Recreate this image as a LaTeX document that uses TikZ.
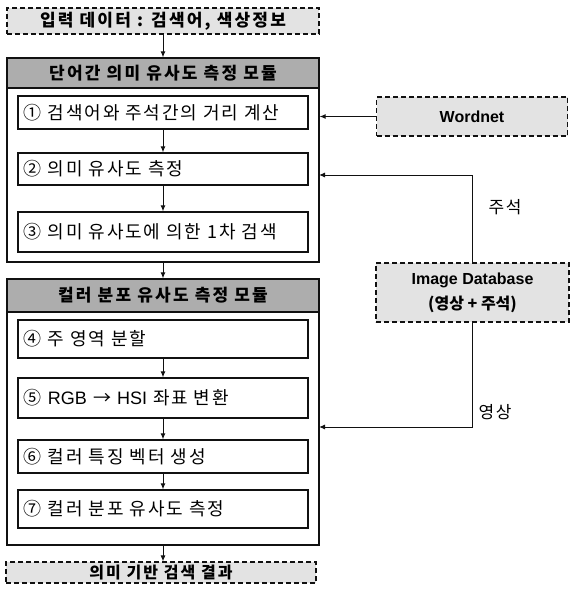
\documentclass[tikz,border=0pt]{standalone}
\usepackage{fontspec}
\setmainfont{Noto Sans CJK KR}
\newfontfamily\wideFont{Noto Sans CJK KR}[LetterSpace=10]
\newfontfamily\widerFont{Noto Sans CJK KR}[LetterSpace=13]
\newfontfamily\latinFont{Liberation Sans}
\usepackage{xcolor}
\usetikzlibrary{arrows.meta}
\definecolor{ioBgColor}{HTML}{E3E3E3}
\definecolor{headBgColor}{HTML}{ADADAD}
\definecolor{stepBgColor}{HTML}{FFFFFF}
\definecolor{lineColor}{HTML}{111111}
\def\textIn{입력 데이터 : 검색어, 색상정보}
\def\textOut{의미 기반 검색 결과}
\def\textModA{단어간 의미 유사도 측정 모듈}
\def\textModB{컬러 분포 유사도 측정 모듈}
\def\textA{① 검색어와 주석간의 거리 계산}
\def\textB{② 의미 유사도 측정}
\def\textC{③ 의미 유사도에 의한 1차 검색}
\def\textD{④ 주 영역 분할}
\def\textE{⑤ {\latinFont RGB} → {\latinFont HSI} 좌표 변환}
\def\textF{⑥ 컬러 특징 벡터 생성}
\def\textG{⑦ 컬러 분포 유사도 측정}
\tikzset{
ioBox/.style={draw=lineColor, fill=ioBgColor, line width=1.1bp,
dash pattern=on 5bp off 3bp, inner sep=0pt,
font=\widerFont\fontsize{17bp}{20bp}\selectfont\bfseries},
modBox/.style={draw=lineColor, line width=1.2bp, inner sep=0pt,
minimum width=312bp},
headBox/.style={draw=lineColor, fill=headBgColor, line width=1.1bp,
inner sep=0pt, minimum width=312bp,
font=\widerFont\fontsize{17bp}{20bp}\selectfont\bfseries},
stepBox/.style={draw=lineColor, fill=stepBgColor, line width=1.3bp,
text width=278bp, inner xsep=6bp, inner ysep=0pt, align=left,
font=\wideFont\fontsize{18bp}{21bp}\selectfont},
flow/.style={draw=lineColor, line width=1bp, -{Latex[length=6bp,width=5bp]}},
}

\begin{document}
\begin{tikzpicture}[x=1bp,y=-1bp, font=\fontsize{17bp}{20bp}\selectfont]
\useasboundingbox (0, 0) rectangle (572, 595);

% input and output
\begin{scope}
\node[ioBox, minimum width=312bp, minimum height=26bp] (inBox) at (163, 21) {\textIn};
\node[ioBox, minimum width=310bp, minimum height=21bp,
font=\widerFont\fontsize{16bp}{18bp}\selectfont\bfseries] (outBox) at (161, 572.5) {\textOut};
\end{scope}

% module layer
\begin{scope}
\node[modBox, minimum height=204bp] (modA) at (163, 160) {};
\node[headBox, minimum height=30bp] (headA) at (163, 73) {\textModA};
\node[modBox, minimum height=266bp] (modB) at (163, 412) {};
\node[headBox, minimum height=33bp] (headB) at (163, 295.5) {\textModB};
\end{scope}

% step layer
\begin{scope}
\node[stepBox, minimum height=33bp] (stepA) at (163, 112.5) {\textA};
\node[stepBox, minimum height=32bp] (stepB) at (163, 169) {\textB};
\node[stepBox, minimum height=40bp] (stepC) at (163, 232) {\textC};
\node[stepBox, minimum height=38bp] (stepD) at (163, 339) {\textD};
\node[stepBox, minimum height=40bp] (stepE) at (163, 398) {\textE};
\node[stepBox, minimum height=33bp] (stepF) at (163, 456.5) {\textF};
\node[stepBox, minimum height=38bp] (stepG) at (163, 509) {\textG};
\end{scope}

% sources
\begin{scope}
\node[ioBox, minimum width=191bp, minimum height=39bp,
font=\latinFont\fontsize{16bp}{19bp}\selectfont\bfseries] (wordnet) at (472, 116.5) {Wordnet};
\node[ioBox, minimum width=193bp, minimum height=59bp, align=center,
font=\fontsize{16bp}{25bp}\selectfont\bfseries] (imgDb) at (472.5, 292.5)
{{\latinFont Image Database}\\(영상 + 주석)};
\end{scope}

% link layer
\begin{scope}
\draw[flow] (inBox.south) -- (inBox.south |- modA.north);
\draw[flow] (stepA) -- (stepB);
\draw[flow] (stepB) -- (stepC);
\draw[flow] (modA) -- (modB);
\draw[flow] (stepD) -- (stepE);
\draw[flow] (stepE) -- (stepF);
\draw[flow] (stepF) -- (stepG);
\draw[flow] (modB.south) -- (modB.south |- outBox.north);
\draw[flow] (wordnet.west) -- (wordnet.west -| modA.east);
\coordinate (annoIn) at (319, 175);
\coordinate (imageIn) at (319, 427);
\draw[flow] (imgDb.north) |- (annoIn);
\draw[flow] (imgDb.south) |- (imageIn);
\node[anchor=west, font=\wideFont\fontsize{17bp}{20bp}\selectfont] (annoLabel) at (485, 207) {주석};
\node[anchor=west, font=\wideFont\fontsize{17bp}{20bp}\selectfont] (imageLabel) at (475, 412) {영상};
\end{scope}
\end{tikzpicture}
\end{document}
